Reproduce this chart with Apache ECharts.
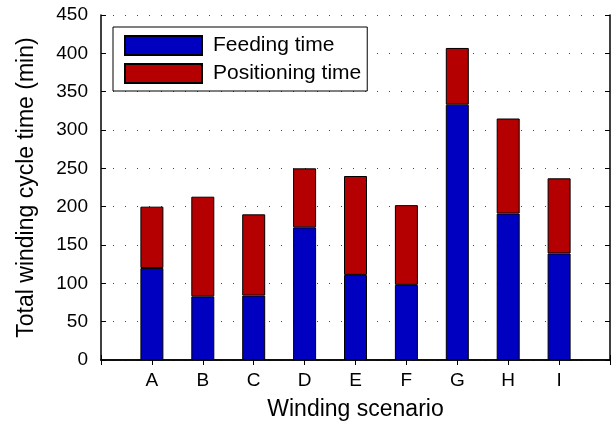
<!DOCTYPE html>
<html lang="en">
<head>
    <meta charset="UTF-8">
    <script type="text/javascript" src="https://cdn.jsdelivr.net/npm/echarts@6/dist/echarts.min.js"></script>
    <title>Winding cycle time</title>
    <style>
        html, body { margin: 0; padding: 0; background: #fff; }
        #chart { width: 613px; height: 426px; }
    </style>
</head>
<body>
    <div id="chart"></div>
<script>
    // data
    var scenarios = ['A', 'B', 'C', 'D', 'E', 'F', 'G', 'H', 'I'];
    var feedingTime = [120, 83, 84, 173, 111, 98, 333, 191, 139];
    var positioningTime = [80, 130, 106, 77, 129, 104, 74, 124, 98];
    var yMax = 450;
    var yStep = 50;

    var font = 'Liberation Sans, Arial, sans-serif';

    // empty slot on each side so the bars sit at 1..9 on a 0..10 span
    var xSlots = [''].concat(scenarios, ['']);
    function pad(arr) { return ['-'].concat(arr, ['-']); }

    var frameLine = { show: true, lineStyle: { color: '#000', width: 1.5 } };
    var innerTick = { show: true, inside: true, length: 5, lineStyle: { color: '#000', width: 1 } };

    var myChart = echarts.init(document.getElementById('chart'));
    myChart.setOption({
        animation: false,
        textStyle: { fontFamily: font },
        grid: { left: 101, right: 2, top: 15, bottom: 64 },
        legend: {
            orient: 'vertical',
            left: 113,
            top: 27,
            padding: [8, 6, 7, 11],
            borderColor: '#000',
            borderWidth: 1,
            backgroundColor: '#fff',
            icon: 'rect',
            itemWidth: 77,
            itemHeight: 19,
            itemGap: 7,
            textStyle: { fontSize: 21, lineHeight: 19, color: '#000', fontFamily: font, padding: [0, 0, 0, 6] },
            data: ['Feeding time', 'Positioning time']
        },
        xAxis: [{
            type: 'category',
            data: xSlots,
            boundaryGap: false,
            name: 'Winding scenario',
            nameLocation: 'middle',
            nameGap: 38,
            nameTextStyle: { fontSize: 23, color: '#000', fontFamily: font },
            axisLine: frameLine,
            axisTick: innerTick,
            axisLabel: { fontSize: 19, color: '#000', margin: 11, interval: 0 },
            splitLine: { show: false }
        }, {
            type: 'category',
            data: xSlots,
            boundaryGap: false,
            position: 'top',
            axisLine: frameLine,
            axisTick: innerTick,
            axisLabel: { show: false },
            splitLine: { show: false }
        }],
        yAxis: [{
            type: 'value',
            min: 0,
            max: yMax,
            interval: yStep,
            name: 'Total winding cycle time (min)',
            nameLocation: 'middle',
            nameGap: 63,
            nameTextStyle: { fontSize: 23, color: '#000', fontFamily: font },
            axisLine: frameLine,
            axisTick: innerTick,
            axisLabel: { fontSize: 19, color: '#000', margin: 13 },
            splitLine: { show: true, lineStyle: { color: '#444', width: 1, type: [1, 11] } }
        }, {
            type: 'value',
            position: 'right',
            min: 0,
            max: yMax,
            interval: yStep,
            axisLine: frameLine,
            axisTick: innerTick,
            axisLabel: { show: false },
            splitLine: { show: false }
        }],
        series: [{
            name: 'Feeding time',
            type: 'bar',
            stack: 'total',
            barWidth: 23,
            itemStyle: { color: '#0000c0', borderColor: '#000', borderWidth: 1 },
            data: pad(feedingTime)
        }, {
            name: 'Positioning time',
            type: 'bar',
            stack: 'total',
            barWidth: 23,
            itemStyle: { color: '#b40000', borderColor: '#000', borderWidth: 1 },
            data: pad(positioningTime)
        }]
    });
</script>
</body>
</html>
